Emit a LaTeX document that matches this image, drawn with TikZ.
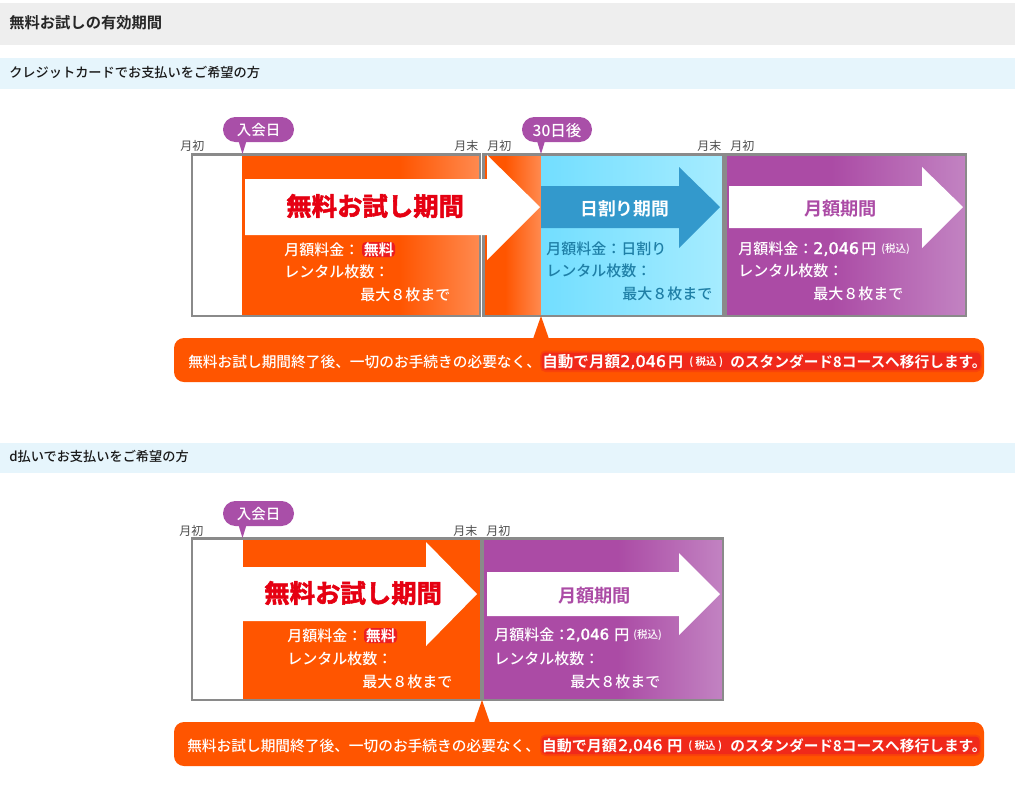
\documentclass[tikz,border=0pt]{standalone}
\usepackage{fontspec}
\setmainfont{Noto Sans CJK JP}
\newfontfamily\jpb{Noto Sans CJK JP Bold}
\newfontfamily\jpm{Noto Sans CJK JP Medium}
\newfontfamily\num{DejaVu Sans}
\definecolor{orng}{HTML}{FF5500}
\definecolor{orngl}{HTML}{FF8A50}
\definecolor{purp}{HTML}{AB4BA5}
\definecolor{purpl}{HTML}{C283C2}
\definecolor{bub}{HTML}{A94FA8}
\definecolor{sky}{HTML}{72DEFF}
\definecolor{skyl}{HTML}{A6ECFF}
\definecolor{bluea}{HTML}{3399CC}
\definecolor{bluet}{HTML}{1F7FA6}
\definecolor{frame}{HTML}{8A8A8A}
\definecolor{glow}{HTML}{E8102A}
\definecolor{redt}{HTML}{E60012}
\definecolor{band}{HTML}{E6F5FC}
\definecolor{graybar}{HTML}{EEEEEE}
\pgfdeclarehorizontalshading{orangeA}{100bp}{color(0bp)=(orng); color(58bp)=(orng); color(75bp)=(orngl); color(100bp)=(orngl)}
\pgfdeclarehorizontalshading{orangeB}{100bp}{color(0bp)=(orng); color(44bp)=(orng); color(75bp)=(orngl); color(100bp)=(orngl)}
\pgfdeclarehorizontalshading{purpleA}{100bp}{color(0bp)=(purp); color(47bp)=(purp); color(75bp)=(purpl); color(100bp)=(purpl)}
\pgfdeclarehorizontalshading{purpleB}{100bp}{color(0bp)=(purp); color(53bp)=(purp); color(75bp)=(purpl); color(100bp)=(purpl)}
\newcommand{\px}[1]{\fontsize{\dimexpr#1pt*3/4\relax}{\dimexpr#1pt*3/4\relax}\selectfont}
% thickening of glyphs by a thin stroke in their own colour
\newcommand{\thicktext}[1]{\special{pdf:code 2 Tr 0.25 w 1 1 1 RG}#1\special{pdf:code 0 Tr}}
\newcommand{\redthick}[1]{\special{pdf:code 2 Tr 0.4 w 0.9 0 0.07 RG}#1\special{pdf:code 0 Tr}}
\tikzset{
  x=0.75pt,y=-0.75pt,
  txt/.style={inner sep=0pt,anchor=west,text=white,yshift=-0.75pt},
  small/.style={txt,text=black!70,font=\px{12}},
  bodyt/.style={txt,font=\jpm\px{15}},
  glowt/.style={txt,font=\jpb\px{14.7}},
  headb/.style={inner sep=0pt,anchor=west,yshift=-0.75pt,text=black!85,font=\jpb\px{15.3}},
  headr/.style={inner sep=0pt,anchor=west,yshift=-0.75pt,text=black!90,font=\jpm\px{13.2}},
  frm/.style={draw=frame,line width=1.8pt},
  blob/.style={fill=glow,fill opacity=.8,rounded corners=3pt},
  softblob/.style={fill=glow,fill opacity=.5,rounded corners=3pt},
  softedge/.style={fill=glow,fill opacity=.25,rounded corners=4pt},
  bubble/.style={fill=bub},
  pill/.style={fill=bub,rounded corners=9.3pt},
  pillt/.style={txt,anchor=center,font=\jpm\px{14.5}},
  callout/.style={fill=orng,rounded corners=7.5pt},
  redtitle/.style={txt,text=redt,font=\jpb\px{25.4}},
  purtitle/.style={txt,text=purp,font=\jpb\px{18.2}},
}
\begin{document}
\begin{tikzpicture}
\useasboundingbox (0,0) rectangle (1015,794);
\fill[white] (0,0) rectangle (1015,794);
% header bands
\fill[graybar] (0,3) rectangle (1015,45);
\fill[band] (0,58) rectangle (1015,89);
\fill[band] (0,443) rectangle (1015,473);
\node[headb] (h1) at (9,22) {無料お試しの有効期間};
\node[headr] (h2) at (9,71) {クレジットカードでお支払いをご希望の方};
\node[headr] (h3) at (9,455) {d払いでお支払いをご希望の方};

% ===== first diagram =====
\shade[shading=orangeA] (242.5,154) rectangle (480,316);
\shade[shading=orangeB] (483,154) rectangle (541,316);
\shade[left color=sky,right color=skyl] (541,154) rectangle (723,316);
\shade[shading=purpleA] (725.5,154) rectangle (966,316);
\draw[frm] (192,154.5) rectangle (480,316);
\draw[frm] (483.5,154.5) rectangle (723.5,316);
\draw[frm] (725.5,154.5) rectangle (966,316);
% arrows
\fill[white] (245,179) -- (487,179) -- (487,155) -- (540,207) -- (487,260) -- (487,235) -- (245,235) -- cycle;
\fill[bluea] (541,186) -- (679,186) -- (679,167) -- (720,207) -- (679,248) -- (679,228) -- (541,228) -- cycle;
\fill[white] (729,186) -- (922,186) -- (922,167) -- (963,207) -- (922,248) -- (922,228) -- (729,228) -- cycle;
% bubbles
\fill[pill] (223,117) rectangle (294,142);
\fill[bubble] (238.5,141) -- (242.5,154) -- (246.5,141) -- cycle;
\fill[pill] (522,117) rectangle (592,142);
\fill[bubble] (537,141) -- (541,154) -- (545,141) -- cycle;
\node[pillt] (p1) at (258.5,129.5) {入会日};
\node[pillt,font=\jpm\px{15.5}] (p2) at (557,129.5) {30日後};
% small labels
\node[small] (m1) at (180,145) {月初};
\node[small] (m2) at (454,145) {月末};
\node[small] (m3) at (487,145) {月初};
\node[small] (m4) at (697,145) {月末};
\node[small] (m5) at (730,145) {月初};
% titles
\node[redtitle] (t1) at (286,205) {\redthick{無料お試し期間}};
\node[txt,font=\jpb\px{17.8}] (t2) at (580,208) {日割り期間};
\node[purtitle] (t3) at (804,208) {月額期間};
% orange text
\node[bodyt] (a1) at (284,249) {月額料金：};
\fill[blob] (362,242) rectangle (395,257);
\node[glowt,font=\jpb\px{15}] (a2) at (363.5,249) {無料};
\node[bodyt] (a3) at (284,271) {レンタル枚数：};
\node[bodyt] (a4) at (360,294) {最大８枚まで};
% blue text
\node[bodyt,text=bluet] (b1) at (546,248) {月額料金：日割り};
\node[bodyt,text=bluet] (b2) at (546,270) {レンタル枚数：};
\node[bodyt,text=bluet] (b3) at (622,293) {最大８枚まで};
% purple text
\node[bodyt] (c1) at (738,248) {月額料金：};
\node[txt,font=\num\px{16}] (c2) at (813,248) {\thicktext{2,046}};
\node[bodyt] (c3) at (861,248) {円};
\node[txt,font=\jpm\px{10.5}] (c4) at (881,248) {(税込)};
\node[bodyt] (c5) at (738,270) {レンタル枚数：};
\node[bodyt] (c6) at (813,293) {最大８枚まで};
% callout
\fill[callout] (174,338) rectangle (984,382);
\fill[orng] (533,339) -- (541,316) -- (549,339) -- cycle;
\fill[softedge] (540,350.5) rectangle (982,372);
\fill[softblob] (541.5,352.5) rectangle (980.5,370);
\node[bodyt,font=\jpm\px{14.7}] (d1) at (188,361) {無料お試し期間終了後、一切のお手続きの必要なく、};
\node[glowt,font=\jpb\px{15.6}] (d2) at (542,361) {自動で月額};
\node[txt,font=\num\px{16}] (d3) at (620,361) {\thicktext{2,046}};
\node[glowt] (d4) at (668,361) {円};
\node[txt,font=\jpb\px{10.5}] (d5) at (689,361) {( 税込 )};
\node[glowt] (d6) at (730,361) {のスタンダード8コースへ移行します。};

% ===== second diagram =====
\fill[orng] (242.5,538) rectangle (480,700);
\shade[shading=purpleB] (483,538) rectangle (723,700);
\draw[frm] (192,538.5) rectangle (481,700);
\draw[frm] (482.5,538.5) rectangle (723,700);
\fill[white] (243,567) -- (426,567) -- (426,542) -- (477,594) -- (426,646) -- (426,621) -- (243,621) -- cycle;
\fill[white] (487,572) -- (679,572) -- (679,553) -- (720,594) -- (679,635) -- (679,616) -- (487,616) -- cycle;
\fill[pill] (223,501) rectangle (294,526);
\fill[bubble] (238.5,525) -- (242.5,538) -- (246.5,525) -- cycle;
\node[pillt] (p3) at (258.5,513.5) {入会日};
\node[small] (n1) at (179,529.5) {月初};
\node[small] (n2) at (453,529.5) {月末};
\node[small] (n3) at (486,529.5) {月初};
\node[redtitle] (t4) at (264,592) {\redthick{無料お試し期間}};
\node[purtitle] (t5) at (558,595) {月額期間};
\node[bodyt] (e1) at (287,635) {月額料金：};
\fill[blob] (364,628) rectangle (397,643);
\node[glowt,font=\jpb\px{15}] (e2) at (365.5,635) {無料};
\node[bodyt] (e3) at (287,658) {レンタル枚数：};
\node[bodyt] (e4) at (362,681) {最大８枚まで};
\node[bodyt] (f1) at (494,634) {月額料金：};
\node[txt,font=\num\px{15}] (f2) at (566,634) {\thicktext{2,046}};
\node[bodyt] (f3) at (614,634) {円};
\node[txt,font=\jpm\px{10.5}] (f4) at (633,634) {(税込)};
\node[bodyt] (f5) at (494,658) {レンタル枚数：};
\node[bodyt] (f6) at (570,681) {最大８枚まで};
\fill[callout] (174,722) rectangle (984,766);
\fill[orng] (474,723) -- (482,700) -- (490,723) -- cycle;
\fill[softedge] (540,734.5) rectangle (981,756);
\fill[softblob] (541.5,736.5) rectangle (979.5,754);
\node[bodyt,font=\jpm\px{14.7}] (g1) at (187,745) {無料お試し期間終了後、一切のお手続きの必要なく、};
\node[glowt,font=\jpb\px{15}] (g2) at (541.5,745) {自動で月額};
\node[txt,font=\num\px{15.5}] (g3) at (618,745) {\thicktext{2,046}};
\node[glowt,font=\jpb\px{15}] (g4) at (667,745) {円};
\node[txt,font=\jpb\px{10.5}] (g5) at (688,745) {( 税込 )};
\node[glowt] (g6) at (730,745) {のスタンダード8コースへ移行します。};
\end{tikzpicture}
\end{document}
